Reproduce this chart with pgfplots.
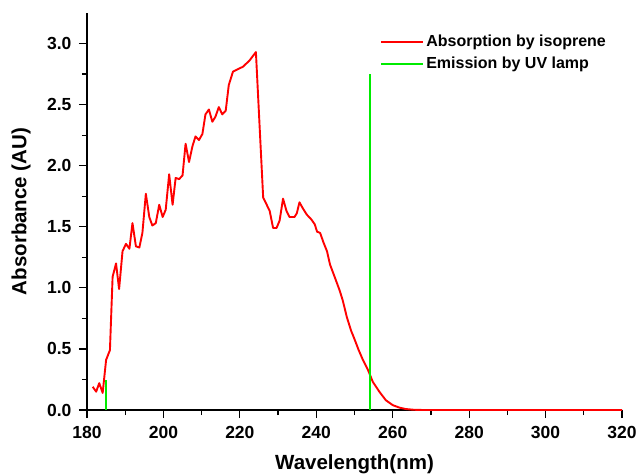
\documentclass[border=0pt]{standalone}
\usepackage{pgfplots}
\pgfplotsset{compat=1.18}
\usepackage{fontspec}
\setmainfont{Liberation Sans}
\definecolor{lampgreen}{RGB}{0,235,0}
\definecolor{absred}{RGB}{255,0,0}
\pgfplotstableread{
x y
181.5 0.19
182.4 0.15
183.2 0.22
184.1 0.14
185.0 0.41
186.0 0.49
186.7 1.09
187.6 1.20
188.4 0.99
189.3 1.30
190.2 1.36
191.1 1.32
191.9 1.53
192.8 1.34
193.7 1.33
194.5 1.45
195.4 1.77
196.3 1.58
197.1 1.51
198.0 1.53
198.9 1.68
199.8 1.58
200.6 1.64
201.5 1.93
202.4 1.68
203.2 1.90
204.1 1.89
205.0 1.92
205.8 2.18
206.7 2.03
207.6 2.16
208.4 2.24
209.3 2.21
210.2 2.26
211.0 2.42
211.9 2.46
212.8 2.36
213.6 2.40
214.5 2.48
215.4 2.42
216.3 2.45
217.1 2.66
218.2 2.77
219.5 2.79
220.8 2.81
222.5 2.86
224.2 2.93
226.1 1.74
227.8 1.63
228.7 1.49
229.6 1.49
230.4 1.55
231.3 1.73
232.2 1.63
233.0 1.58
234.3 1.58
234.9 1.61
235.6 1.70
236.5 1.65
237.5 1.60
238.7 1.56
239.6 1.52
240.2 1.46
241.0 1.45
241.9 1.37
242.8 1.30
243.6 1.19
244.8 1.09
246.1 0.98
246.9 0.90
248.0 0.76
249.1 0.65
250.0 0.58
251.1 0.49
252.2 0.41
253.5 0.33
254.8 0.23
256.5 0.15
258.2 0.08
260.0 0.04
261.7 0.02
263.4 0.008
265.5 0.002
268.0 0.0
320.0 0.0
}\absdata
\begin{document}
\begin{tikzpicture}
\useasboundingbox (-87pt,-64pt) rectangle (551pt,410pt);
\begin{axis}[
  at={(0,0)}, anchor=south west,
  scale only axis,
  width=535pt, height=397pt,
  xmin=180, xmax=320, ymin=0, ymax=3.25,
  axis x line*=bottom, axis y line*=left,
  axis line style={-, line width=1.3pt, black},
  xtick={180,200,...,320},
  ytick={0,0.5,...,3.0},
  minor x tick num=1, minor y tick num=1,
  tick align=outside,
  major tick length=8pt, minor tick length=5pt,
  every tick/.style={line width=1.2pt, black},
  /pgf/number format/assume math mode=true,
  tick label style={font=\fontsize{17.5}{18}\selectfont\bfseries},
  yticklabel style={/pgf/number format/.cd, fixed, fixed zerofill, precision=1, /tikz/.cd, xshift=-4pt},
  xticklabel style={/pgf/number format/.cd, fixed, precision=0, /tikz/.cd, yshift=-5pt},
  xlabel={Wavelength(nm)},
  ylabel={Absorbance (AU)},
  label style={font=\fontsize{20.5}{22}\selectfont\bfseries},
  xlabel style={at={(axis description cs:0.5,-0.150)}, anchor=base},
  ylabel style={at={(axis description cs:-0.123,0.5)}, anchor=center, rotate=0},
  legend style={draw=none, fill=none, at={(axis description cs:0.548,0.950)}, anchor=north west,
    font=\fontsize{16}{17}\selectfont\bfseries, row sep=5pt, inner sep=0pt},
  legend cell align=left,
  legend image code/.code={\draw[#1] (0pt,0pt) -- (42pt,0pt);},
  clip=false,
]
\addplot[absred, line width=1.9pt, line join=round] table {\absdata};
\addlegendentry{Absorption by isoprene}
\addplot[lampgreen, line width=1.8pt] coordinates {(254,0) (254,2.75)};
\addlegendentry{Emission by UV lamp}
\addplot[lampgreen, line width=1.8pt, forget plot] coordinates {(185,0) (185,0.245)};
\end{axis}
\end{tikzpicture}
\end{document}
